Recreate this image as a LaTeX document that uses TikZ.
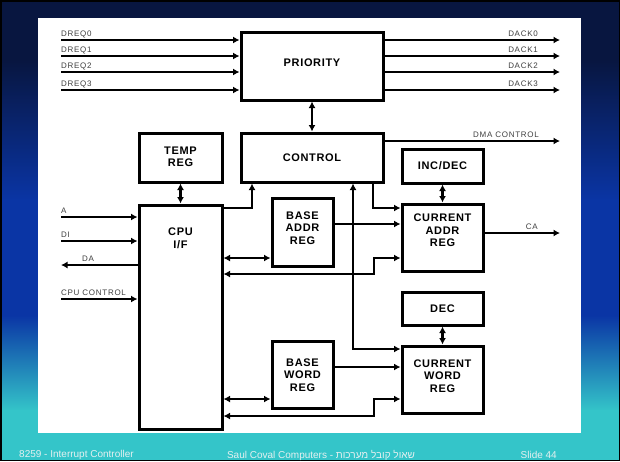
\documentclass[tikz,border=0pt]{standalone}
\usepackage{fontspec}
\setmainfont{Liberation Sans}
\newfontfamily\boxfam[LetterSpace=6]{Liberation Sans}
\newfontfamily\labfam[LetterSpace=9]{Liberation Sans}
\newfontfamily\hebfont[Script=Hebrew]{Liberation Sans}
\TeXXeTstate=1
\usetikzlibrary{arrows.meta}
\definecolor{navy}{HTML}{081640}
\definecolor{royal}{HTML}{0A35A5}
\definecolor{aqua}{HTML}{34C5C9}
\definecolor{labgray}{HTML}{404040}
\definecolor{foottext}{HTML}{E4F0F0}
\tikzset{
  box/.style={draw=black, line width=3pt, fill=white, inner sep=0pt},
  boxtext/.style={font=\boxfam\bfseries\fontsize{11}{12.5}\selectfont, align=center, inner sep=0pt},
  wire/.style={line width=2.6pt},
  lab/.style={font=\labfam\fontsize{8}{9}\selectfont, text=labgray, inner sep=0pt},
  foot/.style={font=\fontsize{10}{12}\selectfont, text=foottext, inner sep=0pt},
  >={Latex[length=6.5pt,width=7pt]}
}
\begin{document}
\begin{tikzpicture}[x=1pt,y=-1pt]
\useasboundingbox (0,0) rectangle (620,461);
% background
\fill[navy] (0,0) rectangle (620,61);
\shade[top color=navy, bottom color=royal] (0,60) rectangle (620,201);
\fill[royal] (0,200) rectangle (620,316);
\shade[top color=royal, bottom color=aqua] (0,315) rectangle (620,411);
\fill[aqua] (0,410) rectangle (620,461);
\draw[black, line width=1.5pt] (0.75,0.75) rectangle (619.25,460.25);
\fill[white] (38,18) rectangle (581,433);

% boxes
\node[box, minimum width=142pt, minimum height=68pt] (prio) at (312,66) {};
\node[boxtext] (priot) at (312,63) {PRIORITY};
\node[box, minimum width=142pt, minimum height=49pt] (ctrl) at (312,157.5) {};
\node[boxtext] (ctrlt) at (312,157.5) {CONTROL};
\node[box, minimum width=83pt, minimum height=49pt] (temp) at (180.5,157.5) {};
\node[boxtext] (tempt) at (180.5,157) {TEMP\\REG};
\node[box, minimum width=83pt, minimum height=224pt] (cpu) at (180.5,317) {};
\node[boxtext] (cput) at (180.5,238.5) {CPU\\I/F};
\node[box, minimum width=61pt, minimum height=68pt] (ba) at (302.5,232) {};
\node[boxtext] (bat) at (302.5,228) {BASE\\ADDR\\REG};
\node[box, minimum width=61pt, minimum height=67pt] (bw) at (302.5,374.5) {};
\node[boxtext] (bwt) at (302.5,375) {BASE\\WORD\\REG};
\node[box, minimum width=81pt, minimum height=34pt] (incdec) at (442.5,166) {};
\node[boxtext] (incdect) at (442.5,166) {INC/DEC};
\node[box, minimum width=81pt, minimum height=67pt] (car) at (442.5,237.5) {};
\node[boxtext] (cart) at (442.5,230.5) {CURRENT\\ADDR\\REG};
\node[box, minimum width=81pt, minimum height=33pt] (dec) at (442.5,308.5) {};
\node[boxtext] (dect) at (442.5,308.5) {DEC};
\node[box, minimum width=81pt, minimum height=67pt] (cwr) at (442.5,379.5) {};
\node[boxtext] (cwrt) at (442.5,376) {CURRENT\\WORD\\REG};

% DREQ inputs
\foreach \i/\y in {0/40,1/56,2/72,3/90}{
  \coordinate (dq\i) at (61,\y);
  \draw[wire,->] (dq\i) -- (dq\i -| prio.west);
  \node[lab, anchor=base west] (ldq\i) at ([yshift=4pt]dq\i) {DREQ\i};
  \coordinate (dk\i) at (560,\y);
  \coordinate (dkl\i) at (538,\y);
  \draw[wire,->] (prio.east |- dk\i) -- (dk\i);
  \node[lab, anchor=base east] (ldk\i) at ([yshift=4pt]dkl\i) {DACK\i};
}

% DMA control and CA outputs
\coordinate (dmaend) at (560,141);
\coordinate (dmal) at (539,141);
\draw[wire,->] (ctrl.east |- dmaend) -- (dmaend);
\node[lab, anchor=base east] (ldma) at ([yshift=4pt]dmal) {DMA CONTROL};
\coordinate (caend) at (560,233);
\coordinate (cal) at (538,233);
\draw[wire,->] (car.east |- caend) -- (caend);
\node[lab, anchor=base east] (lca) at ([yshift=4pt]cal) {CA};

% CPU side signals
\coordinate (ain) at (61,217);
\draw[wire,->] (ain) -- (ain -| cpu.west);
\node[lab, anchor=base west] (la) at ([yshift=4pt]ain) {A};
\coordinate (diin) at (61,241);
\draw[wire,->] (diin) -- (diin -| cpu.west);
\node[lab, anchor=base west] (ldi) at ([yshift=4pt]diin) {DI};
\coordinate (daout) at (61,265);
\coordinate (dal) at (82,265);
\draw[wire,<-] (daout) -- (daout -| cpu.west);
\node[lab, anchor=base west] (lda) at ([yshift=4pt]dal) {DA};
\coordinate (ccin) at (61,299);
\draw[wire,->] (ccin) -- (ccin -| cpu.west);
\node[lab, anchor=base west] (lcc) at ([yshift=4pt]ccin) {CPU CONTROL};

% box to box double arrows
\draw[wire,<->] (prio.south) -- (ctrl.north);
\draw[wire,<->] (temp.south) -- (cpu.north);
\draw[wire,<->] (incdec.south) -- (car.north);
\draw[wire,<->] (dec.south) -- (cwr.north);

% CPU to CONTROL
\coordinate (cc) at (252,208);
\draw[wire,->] (cpu.east |- cc) -| (cc |- ctrl.south);

% CONTROL <-> CURRENT WORD REG
\coordinate (cw1) at (353,349);
\draw[wire,<->] (cw1 |- ctrl.south) |- (cwr.west |- cw1);
% CONTROL -> CURRENT ADDR REG
\coordinate (ca1) at (373,208);
\draw[wire,->] (ca1 |- ctrl.south) |- (car.west |- ca1);
% BASE ADDR -> CURRENT ADDR
\coordinate (ca2) at (402,224);
\draw[wire,->] (ba.east |- ca2) -- (car.west |- ca2);
% CPU <-> BASE ADDR
\coordinate (ba1) at (230,258);
\draw[wire,<->] (cpu.east |- ba1) -- (ba.west |- ba1);
% CURRENT ADDR <-> CPU
\coordinate (ca3) at (374,258);
\coordinate (cr3) at (374,274);
\draw[wire,<->] (car.west |- ca3) -- (ca3) -- (cr3) -- (cpu.east |- cr3);

% BASE WORD -> CURRENT WORD
\coordinate (cw2) at (402,367);
\draw[wire,->] (bw.east |- cw2) -- (cwr.west |- cw2);
% CPU <-> BASE WORD
\coordinate (bw1) at (230,399);
\draw[wire,<->] (cpu.east |- bw1) -- (bw.west |- bw1);
% CURRENT WORD <-> CPU
\coordinate (cw3) at (374,399);
\coordinate (cr4) at (374,416);
\draw[wire,<->] (cwr.west |- cw3) -- (cw3) -- (cr4) -- (cpu.east |- cr4);

% footer
\node[foot, anchor=west] (f1) at (19,455) {8259 - Interrupt Controller};
\node[foot] (f2) at (321,455) {Saul Coval Computers - {\hebfont\beginR שאול קובל מערכות\endR}};
\node[foot, anchor=east] (f3) at (557,455) {Slide 44};
\end{tikzpicture}
\end{document}
